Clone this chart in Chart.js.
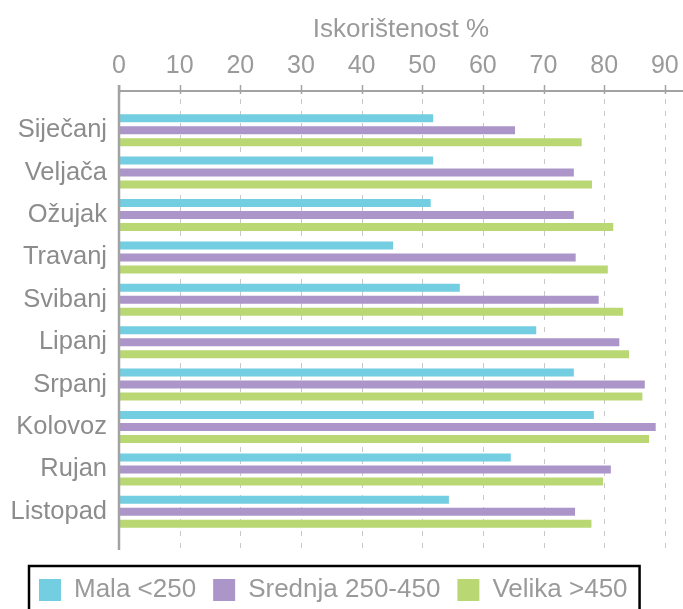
<!DOCTYPE html>
<html lang="hr">
<head>
<meta charset="utf-8">
<title>Iskorištenost %</title>
<script src="https://cdn.jsdelivr.net/npm/chart.js@4.4.1/dist/chart.umd.min.js"></script>
<style>
  html, body { margin: 0; padding: 0; background: #fff; }
  #wrap { width: 683px; height: 609px; }
</style>
</head>
<body>
<div id="wrap"><canvas id="chart" width="683" height="609"></canvas></div>
<script>
(function () {
  'use strict';

  const MONTHS = ['Siječanj', 'Veljača', 'Ožujak', 'Travanj', 'Svibanj', 'Lipanj', 'Srpanj', 'Kolovoz', 'Rujan', 'Listopad'];
  const MALA = [51.8, 51.8, 51.4, 45.2, 56.2, 68.8, 75.0, 78.3, 64.6, 54.4];
  const SREDNJA = [65.3, 75.0, 75.0, 75.3, 79.1, 82.5, 86.7, 88.5, 81.1, 75.2];
  const VELIKA = [76.3, 78.0, 81.5, 80.6, 83.1, 84.1, 86.3, 87.4, 79.8, 77.9];
  const SERIES_NAMES = ['Mala <250', 'Srednja 250-450', 'Velika >450'];
  const TICKS = [0, 10, 20, 30, 40, 50, 60, 70, 80, 90];
  const COLORS = ['#73cee1', '#ab95c9', '#b9d874'];
  const X_MAX = 93;
  const LEGEND_SHIFT = 22;

  Chart.defaults.font.family = '"Liberation Sans", Arial, sans-serif';

  // osi i isprekidana mreža, produžene iznad/ispod područja stupaca; okvir legende
  const axisDecor = {
    id: 'axisDecor',
    afterLayout: function (chart) {
      if (chart.legend) chart.legend.left = LEGEND_SHIFT; /* legenda malo udesno */
    },
    beforeDatasetsDraw: function (chart) {
      var ctx = chart.ctx, a = chart.chartArea, sx = chart.scales.x;
      var top = a.top - 18, bottom = a.bottom + 17;
      ctx.save();
      ctx.strokeStyle = '#c8c8c8';
      ctx.lineWidth = 1;
      ctx.setLineDash([5, 7]);
      sx.ticks.forEach(function (t) {
        if (t.value === 0) return;
        var px = Math.round(sx.getPixelForValue(t.value)) + 0.5;
        ctx.beginPath();
        ctx.moveTo(px, top + 8);
        ctx.lineTo(px, bottom);
        ctx.stroke();
      });
      ctx.restore();
    },
    afterDatasetsDraw: function (chart) {
      var ctx = chart.ctx, a = chart.chartArea, sx = chart.scales.x;
      var top = a.top - 18, bottom = a.bottom + 17;
      ctx.save();
      ctx.strokeStyle = '#a3a3a3';
      ctx.lineWidth = 2;
      ctx.beginPath();
      ctx.moveTo(a.left, top);
      ctx.lineTo(chart.width, top);
      ctx.stroke();
      ctx.lineWidth = 1.5;
      sx.ticks.forEach(function (t) {
        var px = Math.round(sx.getPixelForValue(t.value)) + 0.5;
        ctx.beginPath();
        ctx.moveTo(px, top - 6);
        ctx.lineTo(px, top + 3);
        ctx.stroke();
      });
      ctx.lineWidth = 2.5;
      ctx.beginPath();
      ctx.moveTo(a.left, top - 6);
      ctx.lineTo(a.left, bottom);
      ctx.stroke();
      ctx.restore();
    },
    afterDraw: function (chart) {
      var lg = chart.legend;
      if (!lg || !lg.legendHitBoxes || !lg.legendHitBoxes.length) return;
      var pad = lg.options.labels.padding;
      var left = lg.left + pad - 10;
      var right = lg.left + lg.lineWidths[0] + 12;
      var top = lg.legendHitBoxes[0].top - 11;
      var ctx = chart.ctx;
      ctx.save();
      ctx.strokeStyle = '#000';
      ctx.lineWidth = 2.5;
      ctx.strokeRect(left, top, right - left, chart.height - top + 10);
      ctx.restore();
    }
  };

  function makeSet(label, data, color) {
    return {
      label: label,
      data: data,
      backgroundColor: color,
      borderWidth: 0,
      categoryPercentage: 0.85,
      barPercentage: 0.667
    };
  }

  new Chart(document.getElementById('chart'), {
    type: 'bar',
    data: {
      labels: MONTHS,
      datasets: [
        makeSet(SERIES_NAMES[0], MALA, COLORS[0]),
        makeSet(SERIES_NAMES[1], SREDNJA, COLORS[1]),
        makeSet(SERIES_NAMES[2], VELIKA, COLORS[2])
      ]
    },
    options: {
      indexAxis: 'y',
      responsive: false,
      animation: false,
      layout: { padding: { top: 0, right: 0, bottom: -4, left: 0 } },
      scales: {
        x: {
          position: 'top',
          min: 0,
          max: X_MAX,
          afterBuildTicks: function (s) { s.ticks = TICKS.map(function (v) { return { value: v }; }); },
          afterFit: function (s) { s.height = 109; s.paddingLeft = 0; s.paddingRight = 0; },
          ticks: { color: '#9a9a9a', font: { size: 25 }, padding: 28, maxRotation: 0, autoSkip: false },
          grid: { display: false, drawTicks: false },
          border: { display: false },
          title: { display: true, text: 'Iskorištenost %', color: '#9a9a9a', font: { size: 26 }, padding: { top: 14, bottom: 0 } }
        },
        y: {
          afterFit: function (s) { s.width = 119; },
          ticks: { color: '#8c8c8c', font: { size: 25.5 }, padding: 12 },
          grid: { display: false, drawTicks: false },
          border: { display: false }
        }
      },
      plugins: {
        legend: {
          position: 'bottom',
          align: 'start',
          title: { display: true, text: '', font: { size: 10 }, padding: { top: 15, bottom: 0 } },
          labels: { color: '#9a9a9a', font: { size: 26 }, boxWidth: 22, boxHeight: 22, padding: 17 }
        },
        tooltip: { enabled: false }
      }
    },
    plugins: [axisDecor]
  });
})();
</script>
</body>
</html>
